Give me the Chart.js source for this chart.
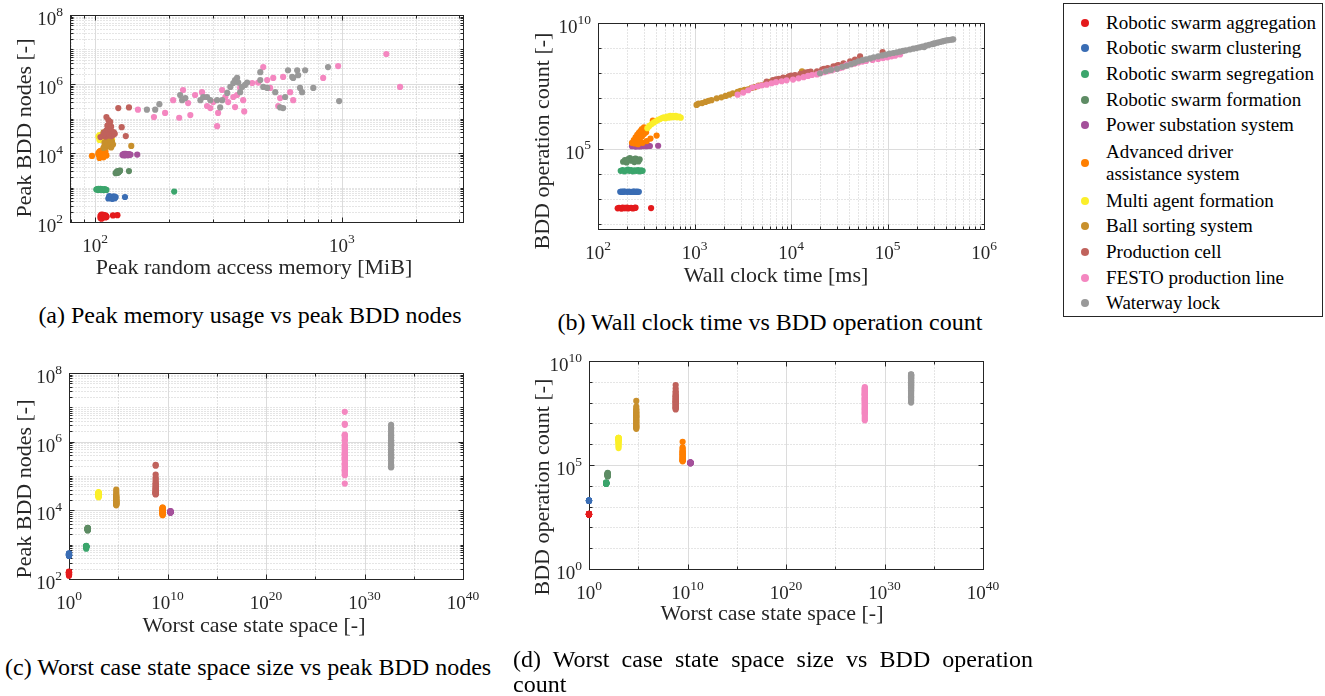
<!DOCTYPE html>
<html>
<head>
<meta charset="utf-8">
<title>BDD benchmark scatter plots</title>
<script src="https://cdn.jsdelivr.net/npm/chart.js@4.4.1/dist/chart.umd.min.js"></script>
<style>
  html, body { margin: 0; padding: 0; background: #fff; }
  body { position: relative; width: 1325px; height: 696px; overflow: hidden;
         font-family: "Liberation Serif", "Times New Roman", serif; color: #000; }
  canvas { position: absolute; }
  .caption { position: absolute; font-size: 24px; line-height: 26px; white-space: nowrap; }
  #legend { position: absolute; left: 1063px; top: 3px; width: 260px; height: 314px;
            box-sizing: border-box; border: 1px solid #262626; padding-top: 6px; font-size: 19px; }
  .item { display: flex; align-items: center; height: 25.6px; white-space: nowrap; }
  .item.two { height: 50px; line-height: 22px; }
  .dot { width: 8px; height: 8px; border-radius: 50%; margin-left: 17px; margin-right: 17px; flex: none; }
</style>
</head>
<body>
<canvas id="figA" width="500" height="290" style="left:0;top:0"></canvas>
<canvas id="figB" width="500" height="290" style="left:500px;top:0"></canvas>
<canvas id="figC" width="500" height="310" style="left:0;top:340px"></canvas>
<canvas id="figD" width="500" height="310" style="left:500px;top:340px"></canvas>

<div id="legend"></div>

<div class="caption" style="left:0;top:302px;width:500px;text-align:center">(a) Peak memory usage vs peak BDD nodes</div>
<div class="caption" style="left:520px;top:309px;width:500px;text-align:center">(b) Wall clock time vs BDD operation count</div>
<div class="caption" style="left:5px;top:654px">(c) Worst case state space size vs peak BDD nodes</div>
<div class="caption" style="left:513px;top:647px;width:520px;line-height:25px">
  <div style="text-align:justify;text-align-last:justify">(d) Worst case state space size vs BDD operation</div>
  <div>count</div>
</div>

<script>
// ---- data (one run per index; memory/nodes pair up, time/ops pair up) ----
const seriesNames = [
  "Robotic swarm aggregation", "Robotic swarm clustering", "Robotic swarm segregation",
  "Robotic swarm formation", "Power substation system", "Advanced driver assistance system",
  "Multi agent formation", "Ball sorting system", "Production cell",
  "FESTO production line", "Waterway lock"
];
const seriesColors = ["#e41a1c", "#3a6db4", "#3ba56c", "#5e8c64", "#a4509a", "#ff7f00",
  "#fbef2a", "#c8902c", "#c0625c", "#f487c0", "#999999"];

// worst case state space of each model
const stateSpace = [1, 1, 56, 79, 2e10, 3.2e9, 1000, 6.3e4, 6.3e8, 1e28, 5e32];

const aggMemory = [105,106,107,108,109,110,111,105,107,109,111,106,108,110,118,123];
const aggNodes  = [150,165,135,160,140,155,145,130,160,150,140,125,155,135,155,158];
const aggTime   = [160,165,170,175,180,185,190,200,205,210,220,230,240,245,195,355];
const aggOps    = [420,440,430,410,450,425,435,445,420,430,440,415,435,445,425,430];

const clustMemory = [113,114,115,116,117,118,119,120,121,114,116,118,120,132];
const clustNodes  = [480,520,500,540,470,510,550,490,530,560,500,480,520,530];
const clustTime   = [170,175,180,185,190,200,210,220,230,235,240,250,255,265];
const clustOps    = [1900,1950,1880,1920,1960,1900,1930,1870,1950,1910,1940,1890,1920,1900];

const segMemory = [101,102,103,104,105,106,107,108,109,110,111,103,106,209];
const segNodes  = [870,900,850,880,920,860,890,840,900,870,850,910,880,760];
const segTime   = [172,180,188,196,204,212,220,230,240,250,260,270,280,290];
const segOps    = [13000,14000,12500,13500,14500,13000,14000,12500,13500,13000,14000,12500,13500,13000];

const formMemory = [121,122,123,124,125,126,122,123,124,125,126,123,124,137];
const formNodes  = [2600,2800,3000,2700,2900,3100,2650,2850,2750,2950,3050,2700,2900,3000];
const formTime   = [182,190,198,206,214,222,230,238,246,254,262,270,200,240];
const formOps    = [30000,35000,28000,38000,42000,33000,36000,29000,40000,34000,31000,37000,32000,39000];

const powerMemory = [129,130,131,132,133,134,135,136,137,138,139,131,134,148];
const powerNodes  = [8800,9200,8500,9000,9400,8700,9100,8600,9300,8900,9000,9500,8800,9000];
const powerTime   = [225,235,245,255,265,275,285,295,305,315,330,345,260,420];
const powerOps    = [125000,130000,120000,128000,135000,122000,132000,126000,129000,124000,131000,127000,123000,130000];

const adasMemory = [97,103,104,105,106,107,108,109,110,111,104,106,108,110,103,105,107,109,106,108];
const adasNodes  = [8200,9000,11000,8000,10000,12000,7500,9500,11000,8500,7200,10500,7800,9000,10000,11500,8600,12000,9800,8200];
const adasTime   = [225,235,245,255,265,275,285,300,240,255,270,285,300,315,260,290,320,350,370,405];
const adasOps    = [170000,220000,280000,350000,420000,500000,600000,700000,160000,180000,230000,300000,380000,450000,150000,170000,200000,250000,1300000,330000];

const multiMemory = [103,104,105,106,107,108,109,110,111,112,113,114,115,116,117,104,106,108,110,112];
const multiNodes  = [30000,33000,27000,31000,25000,32000,28000,34000,26000,30000,29000,33000,27000,31000,25000,24000,28000,32000,26000,30000];
const multiTime   = [325,340,360,380,400,420,440,460,480,500,520,540,560,580,600,620,640,660,690,720];
const multiOps    = [650000,800000,950000,1100000,1250000,1400000,1500000,1650000,1750000,1600000,1900000,1700000,2000000,1750000,2000000,1800000,2000000,1750000,1900000,1700000];

const ballMemory = [108,109,110,111,112,113,114,115,116,117,118,109,111,113,115,117,110,112,114,116,108,112,115,140];
const ballNodes  = [14000,16000,15000,18000,17000,19500,15500,16500,14500,18500,17500,20000,22000,25000,28000,21000,30000,35000,24000,26000,40000,19000,23000,16000];
const ballTime   = [1050,1100,1200,1300,1400,1500,1700,1900,2100,2300,2500,2800,3000,3300,3600,3900,4200,4600,5000,5500,6000,7000,9000,13000];
const ballOps    = [5.5e6,6.2e6,6.5e6,7.2e6,8e6,8.5e6,1.0e7,1.1e7,1.25e7,1.4e7,1.6e7,1.8e7,2.0e7,2.2e7,2.3e7,2.6e7,2.8e7,3.2e7,3.4e7,4e7,4.5e7,5e7,6.5e7,1.2e8];

const cellMemory = [110,112,114,116,118,120,111,113,115,117,119,112,114,116,113,115,109,111,108,105,133,124,137,128];
const cellNodes  = [30000,32000,35000,31000,33000,36000,45000,50000,48000,42000,40000,62000,70000,58000,90000,80000,40000,110000,35000,29000,31000,200000,210000,56000];
const cellTime   = [5600,6500,7500,8300,9500,11000,12500,14000,16000,18600,21000,24000,27500,31000,35000,41000,46000,52000,7000,10000,15000,22000,30000,89000];
const cellOps    = [4.7e7,5.3e7,6e7,6.7e7,7.5e7,8.5e7,9.5e7,1.05e8,1.15e8,1.2e8,1.4e8,1.6e8,1.9e8,2.1e8,2.5e8,3e8,3.5e8,4.7e8,5.7e7,8e7,1.1e8,1.5e8,2e8,7e8];

const festoMemory = [149,173,192,207,227,219,238,243,254,271,284,293,301,312,315,327,337,346,363,369,
                     376,387,398,433,458,480,498,512,527,552,562,578,617,635,840,966,1515,1722,277,402];
const festoNodes  = [1.8e5,1.1e5,1.45e5,3.4e5,6.7e5,1.05e5,2.8e5,1.26e5,4.8e5,5.8e5,2.3e5,2e5,3e5,6e4,1.45e5,6.7e5,4.2e5,3e5,4.2e5,2.15e5,
                     4.8e5,7.7e5,3.4e5,1.07e6,1.1e6,3.1e6,1.3e6,7.7e5,1.5e6,2.3e5,3.9e5,1.6e6,5.8e5,3.4e5,1.5e6,3.3e6,7.4e6,8.2e5,4.2e5,1.6e5];
const festoTime   = [2800,3200,3600,4000,4500,5000,5600,6300,7000,8000,9000,10500,12000,13500,15000,16500,18600,20000,22000,24000,
                     26000,27500,30000,32000,34000,36000,38000,42000,46000,50000,55000,60000,70000,80000,90000,100000,110000,120000,135000,45000];
const festoOps    = [1.4e7,1.7e7,2.1e7,2.7e7,3e7,3.3e7,3.5e7,4e7,4.4e7,4.8e7,5.2e7,5.6e7,6.3e7,7e7,7.8e7,8.5e7,9e7,1e8,1.1e8,1.2e8,
                     1.3e8,1.4e8,1.5e8,1.6e8,1.7e8,1.9e8,2.2e8,2.3e8,2.5e8,2.7e8,2.9e8,3.1e8,3.4e8,3.7e8,4e8,4.3e8,4.7e8,5e8,5.6e8,2.4e8];

const lockMemory = [162,175,182,221,225,232,267,274,284,293,312,321,327,343,353,363,369,376,380,387,394,
                    405,413,467,467,480,498,537,562,578,589,605,629,635,659,665,677,690,710,766,879,975];
const lockNodes  = [1.8e5,1.8e5,2.6e5,4.8e5,3.4e5,3.9e5,3.4e5,4.2e5,4.2e5,3.4e5,3.4e5,2.1e5,3.4e5,5.5e5,8.2e5,1.07e6,1.3e6,1.5e6,1.1e6,5.8e5,8.2e5,
                    9.4e5,1.1e6,2.2e6,1.3e6,8.2e5,7.7e5,5.8e5,2.1e5,2e5,4.2e5,2.5e6,1.6e6,1.5e6,2.5e6,1.8e6,7.7e5,5.8e5,2.5e6,7.7e5,3.1e6,3.2e5];
const lockTime   = [20000,23000,26000,30000,34000,38000,42000,46000,50000,55000,60000,66000,72000,80000,88000,96000,105000,115000,125000,135000,145000,
                    155000,170000,185000,200000,215000,230000,250000,270000,290000,310000,330000,350000,370000,390000,410000,430000,450000,470000,480000,240000,300000];
const lockOps    = [1.0e8,1.2e8,1.35e8,1.5e8,1.8e8,2.0e8,2.3e8,2.6e8,3.0e8,3.3e8,3.6e8,3.9e8,4.3e8,4.7e8,5.1e8,5.5e8,6.0e8,6.4e8,6.8e8,7.2e8,7.7e8,
                    8.2e8,8.8e8,9.5e8,1.0e9,1.08e9,1.15e9,1.25e9,1.35e9,1.45e9,1.55e9,1.65e9,1.75e9,1.85e9,1.95e9,2.05e9,2.1e9,2.15e9,2.2e9,2.25e9,1.1e9,1.5e9];

// tick labels, as powers of ten
const memTickExp   = [2, 3];
const nodesTickExp = [2, 4, 6, 8];
const timeTickExp  = [2, 3, 4, 5, 6];
const opsTickExp   = [5, 10];
const spaceTickExp = [0, 10, 20, 30, 40];
const opsTickExpD  = [0, 5, 10];

const memory = [aggMemory, clustMemory, segMemory, formMemory, powerMemory, adasMemory, multiMemory, ballMemory, cellMemory, festoMemory, lockMemory];
const nodes = [aggNodes, clustNodes, segNodes, formNodes, powerNodes, adasNodes, multiNodes, ballNodes, cellNodes, festoNodes, lockNodes];
const wallTime = [aggTime, clustTime, segTime, formTime, powerTime, adasTime, multiTime, ballTime, cellTime, festoTime, lockTime];
const operations = [aggOps, clustOps, segOps, formOps, powerOps, adasOps, multiOps, ballOps, cellOps, festoOps, lockOps];

// ---- drawing ----
const FONT = '"Liberation Serif", "Times New Roman", serif';
const INK = "#262626";

// 2..9 x 10^k strictly inside the range
function splits(min, max) {
  const out = [];
  for (let e = Math.floor(Math.log10(min)); e <= Math.ceil(Math.log10(max)); e++) {
    for (let m = 2; m <= 9; m++) {
      const v = m * Math.pow(10, e);
      if (v > min * 1.001 && v < max / 1.001) out.push(v);
    }
  }
  return out;
}
function decades(lo, hi, skip) {
  const out = [];
  for (let e = lo; e <= hi; e++) if (!skip.includes(e)) out.push(Math.pow(10, e));
  return out;
}

function powLabel(ctx, exp, x, y, align) {
  ctx.font = "19px " + FONT;
  const wb = ctx.measureText("10").width;
  ctx.font = "13.5px " + FONT;
  const we = ctx.measureText(String(exp)).width;
  const left = align === "center" ? x - (wb + we) / 2 : x - wb - we;
  ctx.textAlign = "left";
  ctx.textBaseline = "middle";
  ctx.font = "19px " + FONT;
  ctx.fillText("10", left, y + 5);
  ctx.font = "13.5px " + FONT;
  ctx.fillText(String(exp), left + wb, y - 3);
}

function axesPlugin(spec) {
  return {
    id: "matlabAxes",
    beforeDatasetsDraw(chart) {
      const { ctx, chartArea: a } = chart;
      const sx = chart.scales.x, sy = chart.scales.y;
      const L = Math.round(a.left) + 0.5, R = Math.round(a.right) + 0.5;
      const T = Math.round(a.top) + 0.5, B = Math.round(a.bottom) + 0.5;
      const px = v => Math.round(sx.getPixelForValue(v)) + 0.5;
      const py = v => Math.round(sy.getPixelForValue(v)) + 0.5;
      const xMajor = spec.x.labels.map(e => Math.pow(10, e));
      const yMajor = spec.y.labels.map(e => Math.pow(10, e));
      const inside = (v, s) => v > s.min * 1.001 && v < s.max / 1.001;

      ctx.save();
      ctx.lineWidth = 1;

      // dotted minor grid
      ctx.strokeStyle = "rgba(38,38,38,0.24)";
      ctx.setLineDash([1, 2]);
      ctx.beginPath();
      spec.x.minor.forEach(v => { const p = px(v); ctx.moveTo(p, T); ctx.lineTo(p, B); });
      spec.y.minor.forEach(v => { const p = py(v); ctx.moveTo(L, p); ctx.lineTo(R, p); });
      ctx.stroke();

      // solid major grid
      ctx.setLineDash([]);
      ctx.strokeStyle = "#dcdcdc";
      ctx.beginPath();
      xMajor.filter(v => inside(v, spec.x)).forEach(v => { const p = px(v); ctx.moveTo(p, T); ctx.lineTo(p, B); });
      yMajor.filter(v => inside(v, spec.y)).forEach(v => { const p = py(v); ctx.moveTo(L, p); ctx.lineTo(R, p); });
      ctx.stroke();

      // inward ticks on all four sides
      ctx.strokeStyle = INK;
      ctx.beginPath();
      const xt = (v, len) => { const p = px(v); ctx.moveTo(p, B); ctx.lineTo(p, B - len); ctx.moveTo(p, T); ctx.lineTo(p, T + len); };
      const yt = (v, len) => { const p = py(v); ctx.moveTo(L, p); ctx.lineTo(L + len, p); ctx.moveTo(R, p); ctx.lineTo(R - len, p); };
      xMajor.filter(v => inside(v, spec.x)).forEach(v => xt(v, 5));
      spec.x.minor.forEach(v => xt(v, 3));
      yMajor.filter(v => inside(v, spec.y)).forEach(v => yt(v, 5));
      spec.y.minor.forEach(v => yt(v, 3));
      ctx.stroke();
      ctx.strokeRect(L, T, R - L, B - T);

      // tick labels
      ctx.fillStyle = INK;
      spec.x.labels.forEach(e => powLabel(ctx, e, sx.getPixelForValue(Math.pow(10, e)), a.bottom + 20, "center"));
      spec.y.labels.forEach(e => powLabel(ctx, e, a.left - 7, sy.getPixelForValue(Math.pow(10, e)), "right"));

      // axis titles
      ctx.font = "22px " + FONT;
      ctx.textAlign = "center";
      ctx.textBaseline = "middle";
      ctx.fillText(spec.x.title, spec.x.titleAt[0], spec.x.titleAt[1]);
      ctx.save();
      ctx.translate(spec.y.titleAt[0], spec.y.titleAt[1]);
      ctx.rotate(-Math.PI / 2);
      ctx.fillText(spec.y.title, 0, 0);
      ctx.restore();

      ctx.restore();
    }
  };
}

function makeDatasets(xs, ys) {
  return seriesNames.map((name, i) => ({
    label: name,
    data: ys[i].map((v, k) => ({ x: Array.isArray(xs[i]) ? xs[i][k] : xs[i], y: v })),
    backgroundColor: seriesColors[i],
    borderWidth: 0,
    pointRadius: 3.1,
    pointHoverRadius: 3.1,
    clip: false,
    order: seriesNames.length - i
  }));
}

function makeChart(id, padding, spec, xs, ys) {
  return new Chart(document.getElementById(id), {
    type: "scatter",
    data: { datasets: makeDatasets(xs, ys) },
    options: {
      responsive: false,
      animation: false,
      events: [],
      devicePixelRatio: 1,
      layout: { padding },
      scales: {
        x: { type: "logarithmic", min: spec.x.min, max: spec.x.max, display: false },
        y: { type: "logarithmic", min: spec.y.min, max: spec.y.max, display: false }
      },
      plugins: { legend: { display: false }, tooltip: { enabled: false } }
    },
    plugins: [axesPlugin(spec)]
  });
}

const nodesAxis = { min: 1e2, max: 1e8, labels: nodesTickExp,
  minor: splits(1e2, 1e8).concat(decades(3, 7, [4, 6])), title: "Peak BDD nodes [-]" };
const spaceAxis = { min: 1, max: 1e40, labels: spaceTickExp,
  minor: [1e5, 1e15, 1e25, 1e35], title: "Worst case state space [-]" };

makeChart("figA", { left: 70, top: 15, right: 37, bottom: 68 }, {
  x: { min: 79, max: 3100, labels: memTickExp, minor: splits(79, 3100),
       title: "Peak random access memory [MiB]", titleAt: [254, 268] },
  y: Object.assign({}, nodesAxis, { titleAt: [25, 128] })
}, memory, nodes);

makeChart("figB", { left: 98, top: 23, right: 16, bottom: 61 }, {
  x: { min: 1e2, max: 1e6, labels: timeTickExp, minor: splits(1e2, 1e6),
       title: "Wall clock time [ms]", titleAt: [276, 276] },
  y: { min: 63, max: 1e10, labels: opsTickExp, minor: decades(2, 9, [5]),
       title: "BDD operation count [-]", titleAt: [43, 141] }
}, wallTime, operations);

makeChart("figC", { left: 69, top: 33, right: 37, bottom: 71 }, {
  x: Object.assign({}, spaceAxis, { titleAt: [254, 286] }),
  y: Object.assign({}, nodesAxis, { titleAt: [25, 149] })
}, stateSpace, nodes);

makeChart("figD", { left: 89, top: 21, right: 17, bottom: 81 }, {
  x: Object.assign({}, spaceAxis, { titleAt: [272, 274] }),
  y: { min: 1, max: 1e10, labels: opsTickExpD, minor: decades(1, 9, [5]),
       title: "BDD operation count [-]", titleAt: [43, 147] }
}, stateSpace, operations);

// legend
const legendLines = seriesNames.map(n => n === "Advanced driver assistance system" ? ["Advanced driver", "assistance system"] : [n]);
const legend = document.getElementById("legend");
legendLines.forEach((lines, i) => {
  const item = document.createElement("div");
  item.className = "item" + (lines.length > 1 ? " two" : "");
  const dot = document.createElement("span");
  dot.className = "dot";
  dot.style.background = seriesColors[i];
  const text = document.createElement("span");
  text.innerHTML = lines.join("<br>");
  item.appendChild(dot);
  item.appendChild(text);
  legend.appendChild(item);
});
</script>
</body>
</html>
